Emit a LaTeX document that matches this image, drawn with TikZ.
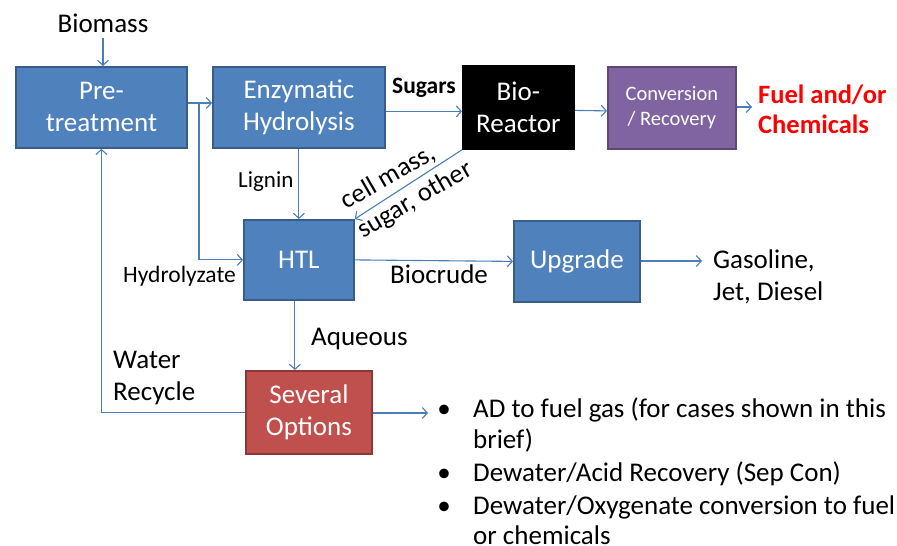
\documentclass[tikz,border=0pt]{standalone}
\usepackage{fontspec}
\setmainfont{Carlito}
\usetikzlibrary{arrows.meta}
\definecolor{bfill}{HTML}{4F81BD}
\definecolor{bborder}{HTML}{385D8A}
\definecolor{pfill}{HTML}{8064A2}
\definecolor{pborder}{HTML}{5C4776}
\definecolor{rfill}{HTML}{C0504D}
\definecolor{rborder}{HTML}{8C3836}
\definecolor{lineblue}{HTML}{4A7EBB}
\definecolor{fuelred}{HTML}{FF0000}
\tikzset{
  procbox/.style={draw=bborder, fill=bfill, line width=1.8pt, text=white, align=center,
    inner sep=0pt, anchor=north west, font=\fontsize{27}{32}\selectfont},
  flow/.style={draw=lineblue, line width=1.1pt, -{Straight Barb[length=5pt,width=11pt]}},
  lbl/.style={anchor=base west, inner sep=0pt, font=\fontsize{27}{32}\selectfont},
  smlbl/.style={anchor=base west, inner sep=0pt, font=\fontsize{23}{26}\selectfont},
}
\begin{document}
\begin{tikzpicture}[x=1pt,y=-1pt]
\useasboundingbox (0,0) rectangle (897,546);
% boxes
\node[procbox, minimum width=171pt, minimum height=81pt] (pre) at (15,66) {Pre-\\treatment};
\node[procbox, minimum width=172pt, minimum height=81pt] (enz) at (212,66) {Enzymatic\\Hydrolysis};
\node[procbox, draw=black, fill=black, minimum width=111pt, minimum height=83pt] (bio) at (462,65) {Bio-\\Reactor};
\node[procbox, draw=pborder, fill=pfill, minimum width=128pt, minimum height=82pt, font=\fontsize{20.5}{25}\selectfont] (conv) at (607,66) {Conversion\\/ Recovery};
\node[procbox, minimum width=110pt, minimum height=80pt] (htl) at (243,219) {HTL};
\node[procbox, minimum width=126pt, minimum height=81pt] (upg) at (513,220) {Upgrade};
\node[procbox, draw=rborder, fill=rfill, minimum width=126pt, minimum height=83pt] (sev) at (245,370) {Several\\Options};
% labels
\node[lbl, anchor=base] (biomass) at (103,32) {Biomass};
\node[smlbl, font=\fontsize{23.5}{26}\selectfont\bfseries] (sugars) at (392,93) {Sugars};
\node[lbl, font=\fontsize{26.5}{30}\selectfont\bfseries, text=fuelred] (fuel1) at (758,103) {Fuel and/or};
\node[lbl, font=\fontsize{26.5}{30}\selectfont\bfseries, text=fuelred] (fuel2) at (758,133) {Chemicals};
\node[smlbl] (lignin) at (238,187) {Lignin};
\node[smlbl, font=\fontsize{23.5}{26}\selectfont] (hydro) at (123,282) {Hydrolyzate};
\node[lbl] (biocrude) at (390,283) {Biocrude};
\node[lbl] (gas1) at (713,268) {Gasoline,};
\node[lbl] (gas2) at (713,300) {Jet, Diesel};
\node[lbl] (aqueous) at (311,345) {Aqueous};
\node[lbl] (water1) at (113,368) {Water};
\node[lbl] (water2) at (113,400) {Recycle};
\node[rotate=30, align=left, inner sep=0pt, font=\fontsize{26.5}{33}\selectfont] (cellmass) at (407,186) {cell mass,\\sugar, other};
% bullet list
\node[lbl, anchor=base] (b1) at (444,417) {•};
\node[lbl] (t1) at (473,417) {AD to fuel gas (for cases shown in this};
\node[lbl] (t1b) at (473,448) {brief)};
\node[lbl, anchor=base] (b2) at (444,481) {•};
\node[lbl] (t2) at (473,481) {Dewater/Acid Recovery (Sep Con)};
\node[lbl, anchor=base] (b3) at (444,514) {•};
\node[lbl] (t3) at (473,514) {Dewater/Oxygenate conversion to fuel};
\node[lbl] (t3b) at (473,544) {or chemicals};
% connectors
\coordinate (split) at (199,103);
\coordinate (fuelin) at (752,107);
\coordinate (gasin) at (702,261);
\coordinate (optout) at (428,413);
\draw[flow] (biomass.south |- 0,38) -- (biomass.south |- pre.north);
\draw[flow] (pre.east |- split) -- (enz.west |- split);
\draw[flow] (split) |- (htl.west);
\draw[flow] (enz.south) -- (htl.north);
\draw[flow] ([yshift=-4pt]enz.east) -- ([yshift=-4pt]bio.west);
\draw[flow] ([yshift=-3pt]bio.east) -- ([yshift=-3pt]conv.west);
\draw[flow] (conv.east |- fuelin) -- (fuelin);
\draw[flow] (bio.south west) -- (htl.north east);
\draw[flow] (htl.east) -- (upg.west);
\draw[flow] (upg.east |- gasin) -- (gasin);
\draw[flow] ([xshift=-4pt]htl.south) -- ([xshift=-4pt]htl.south |- sev.north);
\draw[flow] (sev.west) -| (pre.south);
\draw[flow] (sev.east |- optout) -- (optout);
\end{tikzpicture}
\end{document}
